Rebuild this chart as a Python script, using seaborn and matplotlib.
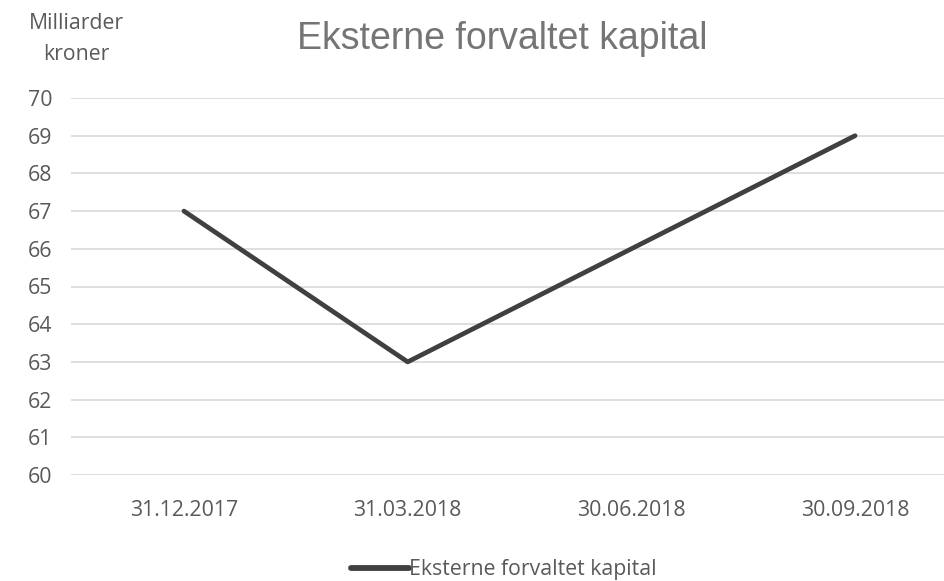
import matplotlib
matplotlib.use("Agg")
import matplotlib.pyplot as plt
import seaborn as sns
import pandas as pd

categories = ["31.12.2017", "31.03.2018", "30.06.2018", "30.09.2018"]
values = [67, 63, 66, 69]
series_name = "Eksterne forvaltet kapital"
y_ticks = list(range(60, 71))

sns.set_style("white")
plt.rcParams['font.family'] = ['Open Sans', 'DejaVu Sans']

df = pd.DataFrame({"x": range(len(categories)), "y": values, "s": series_name})

fig = plt.figure(figsize=(9.45, 5.81), dpi=100)
W, H = 945, 581
ax = fig.add_axes([71 / W, 1 - 475 / H, (945 - 71) / W, (475 - 98) / H])

sns.lineplot(data=df, x="x", y="y", hue="s", palette=["#404040"], linewidth=3.4,
             ax=ax, legend=True)

ax.set_ylim(60, 70)
ax.set_xlim(-0.505, 3.402)
ax.set_yticks(y_ticks)
ax.set_xticks(range(len(categories)))
ax.set_xticklabels(categories)
ax.tick_params(axis='both', colors='#595959', labelsize=15.3, length=0)
ax.tick_params(axis='x', pad=18)
ax.tick_params(axis='y', pad=13.5)
ax.grid(axis='y', color='#d9d9d9', linewidth=1.2)
ax.grid(axis='x', visible=False)
for s in ax.spines.values():
    s.set_visible(False)
ax.set_xlabel("")
ax.set_ylabel("")

fig.text(502 / W, 1 - 39 / H, "Eksterne forvaltet kapital", ha='center', va='center',
         fontsize=27, color='#757575', family=['Liberation Sans', 'DejaVu Sans'])
fig.text(76 / W, 1 - 39 / H, "Milliarder\nkroner", ha='center', va='center',
         fontsize=15.3, color='#595959', linespacing=1.65)

leg = ax.legend(loc='center', bbox_to_anchor=(504 / W, 1 - 570 / H),
                bbox_transform=fig.transFigure, frameon=False, fontsize=15.3,
                handlelength=2.7, handletextpad=0.0, borderaxespad=0)
for line in leg.get_lines():
    line.set_linewidth(4.2)
for t in leg.get_texts():
    t.set_color('#595959')

fig.savefig("out.png", dpi=100)
